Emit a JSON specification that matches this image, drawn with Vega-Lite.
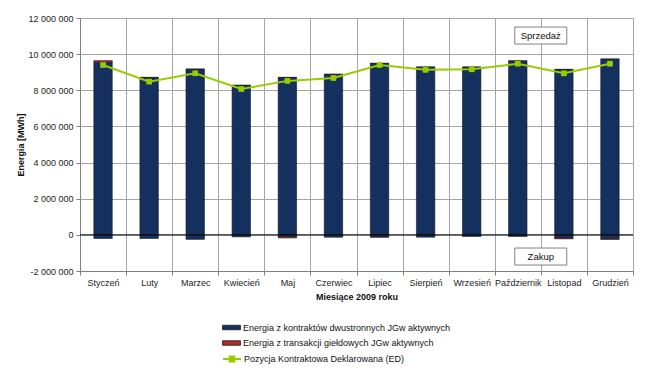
{
  "$schema": "https://vega.github.io/schema/vega-lite/v6.json",
  "autosize": {"type": "none"},
  "padding": {"left": 80, "top": 18, "right": 17, "bottom": 101},
  "width": 553,
  "height": 253,
  "background": "white",
  "config": {
    "locale": {"number": {"decimal": ",", "thousands": " ", "grouping": [3], "currency": ["", " zł"], "minus": "-"}},
    "font": "Liberation Sans",
    "view": {"stroke": "#808080", "strokeWidth": 1},
    "axis": {"labelFont": "Liberation Sans", "titleFont": "Liberation Sans", "labelFontSize": 9, "titleFontSize": 9, "labelColor": "#222222", "titleColor": "#111111", "gridColor": "#a6a6a6", "gridOpacity": 1, "domainColor": "#808080", "tickColor": "#808080", "tickSize": 4},
    "legend": {"padding": 0, "labelFontSize": 9, "labelColor": "#111111", "labelFont": "Liberation Sans", "labelLimit": 0, "rowPadding": 3.5, "labelOffset": 5, "symbolSize": 144, "title": null}
  },
  "datasets": {
    "bars": [
      {"month": "Styczeń", "series": "Energia z kontraktów dwustronnych JGw aktywnych", "value": 9550000},
      {"month": "Styczeń", "series": "Energia z transakcji giełdowych JGw aktywnych", "value": 90000},
      {"month": "Styczeń", "series": "Energia z kontraktów dwustronnych JGw aktywnych", "value": -200000},
      {"month": "Luty", "series": "Energia z kontraktów dwustronnych JGw aktywnych", "value": 8700000},
      {"month": "Luty", "series": "Energia z transakcji giełdowych JGw aktywnych", "value": 20000},
      {"month": "Luty", "series": "Energia z kontraktów dwustronnych JGw aktywnych", "value": -200000},
      {"month": "Marzec", "series": "Energia z kontraktów dwustronnych JGw aktywnych", "value": 9160000},
      {"month": "Marzec", "series": "Energia z transakcji giełdowych JGw aktywnych", "value": 20000},
      {"month": "Marzec", "series": "Energia z kontraktów dwustronnych JGw aktywnych", "value": -250000},
      {"month": "Kwiecień", "series": "Energia z kontraktów dwustronnych JGw aktywnych", "value": 8270000},
      {"month": "Kwiecień", "series": "Energia z transakcji giełdowych JGw aktywnych", "value": 10000},
      {"month": "Kwiecień", "series": "Energia z kontraktów dwustronnych JGw aktywnych", "value": -110000},
      {"month": "Maj", "series": "Energia z kontraktów dwustronnych JGw aktywnych", "value": 8700000},
      {"month": "Maj", "series": "Energia z transakcji giełdowych JGw aktywnych", "value": 20000},
      {"month": "Maj", "series": "Energia z kontraktów dwustronnych JGw aktywnych", "value": -100000},
      {"month": "Maj", "series": "Energia z transakcji giełdowych JGw aktywnych", "value": -70000},
      {"month": "Czerwiec", "series": "Energia z kontraktów dwustronnych JGw aktywnych", "value": 8880000},
      {"month": "Czerwiec", "series": "Energia z transakcji giełdowych JGw aktywnych", "value": 10000},
      {"month": "Czerwiec", "series": "Energia z kontraktów dwustronnych JGw aktywnych", "value": -130000},
      {"month": "Lipiec", "series": "Energia z kontraktów dwustronnych JGw aktywnych", "value": 9480000},
      {"month": "Lipiec", "series": "Energia z transakcji giełdowych JGw aktywnych", "value": 20000},
      {"month": "Lipiec", "series": "Energia z kontraktów dwustronnych JGw aktywnych", "value": -110000},
      {"month": "Lipiec", "series": "Energia z transakcji giełdowych JGw aktywnych", "value": -20000},
      {"month": "Sierpień", "series": "Energia z kontraktów dwustronnych JGw aktywnych", "value": 9280000},
      {"month": "Sierpień", "series": "Energia z transakcji giełdowych JGw aktywnych", "value": 10000},
      {"month": "Sierpień", "series": "Energia z kontraktów dwustronnych JGw aktywnych", "value": -130000},
      {"month": "Wrzesień", "series": "Energia z kontraktów dwustronnych JGw aktywnych", "value": 9280000},
      {"month": "Wrzesień", "series": "Energia z transakcji giełdowych JGw aktywnych", "value": 10000},
      {"month": "Wrzesień", "series": "Energia z kontraktów dwustronnych JGw aktywnych", "value": -90000},
      {"month": "Październik", "series": "Energia z kontraktów dwustronnych JGw aktywnych", "value": 9600000},
      {"month": "Październik", "series": "Energia z transakcji giełdowych JGw aktywnych", "value": 40000},
      {"month": "Październik", "series": "Energia z kontraktów dwustronnych JGw aktywnych", "value": -90000},
      {"month": "Listopad", "series": "Energia z kontraktów dwustronnych JGw aktywnych", "value": 9150000},
      {"month": "Listopad", "series": "Energia z transakcji giełdowych JGw aktywnych", "value": 10000},
      {"month": "Listopad", "series": "Energia z kontraktów dwustronnych JGw aktywnych", "value": -170000},
      {"month": "Listopad", "series": "Energia z transakcji giełdowych JGw aktywnych", "value": -50000},
      {"month": "Grudzień", "series": "Energia z kontraktów dwustronnych JGw aktywnych", "value": 9720000},
      {"month": "Grudzień", "series": "Energia z transakcji giełdowych JGw aktywnych", "value": 10000},
      {"month": "Grudzień", "series": "Energia z kontraktów dwustronnych JGw aktywnych", "value": -220000},
      {"month": "Grudzień", "series": "Energia z transakcji giełdowych JGw aktywnych", "value": -30000}
    ],
    "ed": [
      {"month": "Styczeń", "value": 9400000},
      {"month": "Luty", "value": 8480000},
      {"month": "Marzec", "value": 8940000},
      {"month": "Kwiecień", "value": 8070000},
      {"month": "Maj", "value": 8520000},
      {"month": "Czerwiec", "value": 8680000},
      {"month": "Lipiec", "value": 9400000},
      {"month": "Sierpień", "value": 9130000},
      {"month": "Wrzesień", "value": 9160000},
      {"month": "Październik", "value": 9470000},
      {"month": "Listopad", "value": 8940000},
      {"month": "Grudzień", "value": 9470000}
    ],
    "notes": [
      {"month": "Październik", "value": 11030000, "label": "Sprzedaż"},
      {"month": "Październik", "value": -1200000, "label": "Zakup"}
    ]
  },
  "encoding": {
    "x": {
      "field": "month", "type": "nominal",
      "scale": {"domain": ["Styczeń", "Luty", "Marzec", "Kwiecień", "Maj", "Czerwiec", "Lipiec", "Sierpień", "Wrzesień", "Październik", "Listopad", "Grudzień"], "paddingInner": 0, "paddingOuter": 0},
      "axis": {"title": "Miesiące 2009  roku", "titleFontWeight": "bold", "labelAngle": 0, "tickBand": "extent", "grid": true, "labelPadding": 3, "titlePadding": 5}
    },
    "y": {
      "field": "value", "type": "quantitative",
      "scale": {"domain": [-2000000, 12000000], "nice": false, "zero": false},
      "axis": {"title": "Energia [MWh]", "titleFontWeight": "bold", "values": [-2000000, 0, 2000000, 4000000, 6000000, 8000000, 10000000, 12000000], "tickCount": 8, "format": ",d", "grid": true, "labelOverlap": false, "labelPadding": 3, "titlePadding": 2}
    }
  },
  "layer": [
    {
      "data": {"name": "bars"},
      "mark": {"type": "bar", "width": {"band": 0.4}, "stroke": "#1a1a1a", "strokeWidth": 0.6},
      "encoding": {
        "y": {"field": "value", "type": "quantitative", "stack": "zero"},
        "color": {
          "field": "series", "type": "nominal",
          "scale": {"domain": ["Energia z kontraktów dwustronnych JGw aktywnych", "Energia z transakcji giełdowych JGw aktywnych"], "range": ["#13305e", "#b02a2a"]},
          "legend": {
            "title": null, "orient": "none", "legendX": 145, "legendY": 303,
            "symbolType": "M-1.5,-0.38H1.5V0.38H-1.5Z", "symbolStrokeColor": "#222222", "symbolStrokeWidth": 0.8, "symbolOpacity": 1
          }
        },
        "order": {"field": "series", "sort": "ascending"}
      }
    },
    {
      "data": {"values": [{"value": 0}]},
      "mark": {"type": "rule", "color": "#000000", "strokeWidth": 1},
      "encoding": {"x": null}
    },
    {
      "data": {"name": "ed"},
      "mark": {"type": "line", "strokeWidth": 2, "point": {"shape": "square", "size": 32, "filled": true, "fill": "#99cc00", "strokeWidth": 0, "opacity": 1}},
      "encoding": {
        "stroke": {
          "datum": "Pozycja Kontraktowa Deklarowana  (ED)",
          "scale": {"range": ["#99cc00"]},
          "legend": {
            "title": null, "orient": "none", "legendX": 145, "legendY": 334,
            "symbolType": "M-1.5,0H1.5M-0.4,-0.4H0.4V0.4H-0.4Z", "symbolFillColor": "#99cc00", "symbolStrokeColor": "#99cc00", "symbolStrokeWidth": 2, "symbolOpacity": 1
          }
        }
      }
    },
    {
      "data": {"name": "notes"},
      "mark": {"type": "point", "shape": "M-1,-0.327H1V0.327H-1Z", "size": 2704, "filled": true, "fill": "white", "stroke": "#808080", "strokeWidth": 1, "opacity": 1, "xOffset": 23},
      "encoding": {}
    },
    {
      "data": {"name": "notes"},
      "mark": {"type": "text", "fontSize": 9.5, "font": "Liberation Sans", "color": "#111111", "dx": 23, "baseline": "middle", "align": "center"},
      "encoding": {
        "text": {"field": "label"}
      }
    }
  ]
}
